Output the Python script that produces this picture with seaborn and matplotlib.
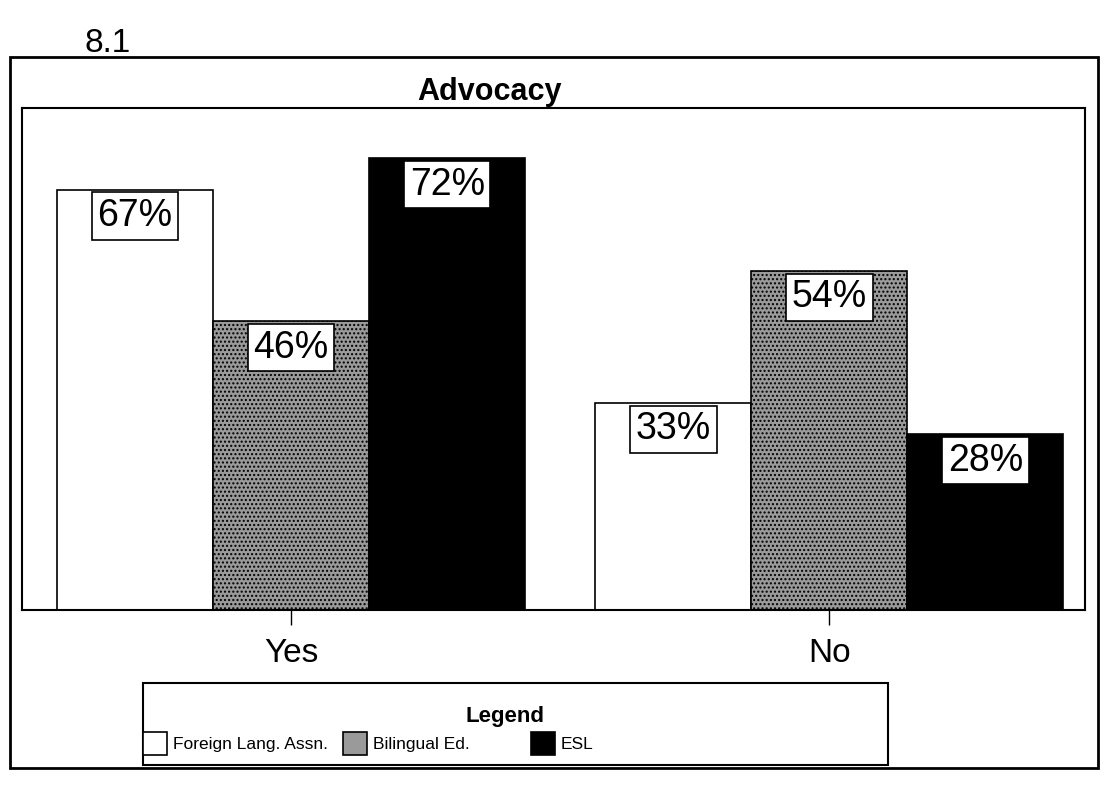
import matplotlib
matplotlib.use("Agg")
import matplotlib.pyplot as plt
from matplotlib.patches import Rectangle
import seaborn as sns
import pandas as pd

responses = ["Yes", "No"]
groups = ["Foreign Lang. Assn.", "Bilingual Ed.", "ESL"]
foreign_pct = [67, 33]
bilingual_pct = [46, 54]
esl_pct = [72, 28]

rows = []
for g, vals in zip(groups, [foreign_pct, bilingual_pct, esl_pct]):
    for r, v in zip(responses, vals):
        rows.append({"response": r, "group": g, "pct": v})
df = pd.DataFrame(rows)

sns.set_theme(style="white")
plt.rcParams["font.family"] = ["Liberation Sans", "DejaVu Sans"]
plt.rcParams["text.color"] = "black"
plt.rcParams["xtick.color"] = "black"
plt.rcParams["xtick.labelcolor"] = "black"

W, H = 1105, 787
fig = plt.figure(figsize=(W / 100, H / 100), dpi=100)
ax = fig.add_axes([22 / W, 1 - 610 / H, (1085 - 22) / W, (610 - 108) / H])

sns.barplot(data=df, x="response", y="pct", hue="group", order=responses,
            hue_order=groups, palette=["white", "#9a9a9a", "black"],
            width=0.87, edgecolor="black", linewidth=1.2, saturation=1,
            ax=ax)

# stippled look for the bilingual bars
for bar in ax.containers[1]:
    bar.set_hatch("....")

for cont in ax.containers:
    for bar in cont:
        h = bar.get_height()
        ax.annotate(f"{h:.0f}%", xy=(bar.get_x() + bar.get_width() / 2, h),
                    xytext=(0, -6), textcoords="offset points",
                    ha="center", va="top", fontsize=27, color="black",
                    bbox=dict(boxstyle="square,pad=0.15", fc="white",
                              ec="black", lw=1.2))

ax.set_xlim(-0.5, 1.475)
ax.set_ylim(0, 80)
ax.set_xlabel("")
ax.set_ylabel("")
ax.set_yticks([])
ax.tick_params(axis="x", direction="out", length=11, width=1, color="black",
               pad=9, labelsize=24, bottom=True)
for s in ax.spines.values():
    s.set_color("black")
    s.set_linewidth(1.5)

handles, labels = ax.get_legend_handles_labels()
ax.legend_.remove()

fig.text(85 / W, 1 - 52 / H, "8.1", fontsize=24, va="baseline")
fig.text(489 / W, 1 - 100 / H, "Advocacy", fontsize=22, fontweight="bold",
         ha="center", va="baseline")

# outer frame
fig.patches.append(Rectangle((10 / W, 1 - 768 / H), 1088 / W, 711 / H,
                             transform=fig.transFigure, fill=False,
                             ec="black", lw=2))
# legend box
fig.patches.append(Rectangle((143 / W, 1 - 765 / H), 745 / W, 82 / H,
                             transform=fig.transFigure, fill=False,
                             ec="black", lw=1.5))
fig.text(505 / W, 1 - 722 / H, "Legend", fontsize=16, fontweight="bold",
         ha="center", va="baseline")

leg_kw = dict(loc="upper left", frameon=False, borderpad=0, borderaxespad=0,
              handlelength=1.4, handleheight=1.7, handletextpad=0.3,
              fontsize=12.5)
fig.legend(handles[:2], labels[:2], ncol=2, columnspacing=0.9,
           bbox_to_anchor=(143 / W, 1 - 732 / H), **leg_kw)
fig.legend(handles[2:], labels[2:], ncol=1,
           bbox_to_anchor=(531 / W, 1 - 732 / H), **leg_kw)

fig.savefig("out.png", dpi=100, facecolor="white")
